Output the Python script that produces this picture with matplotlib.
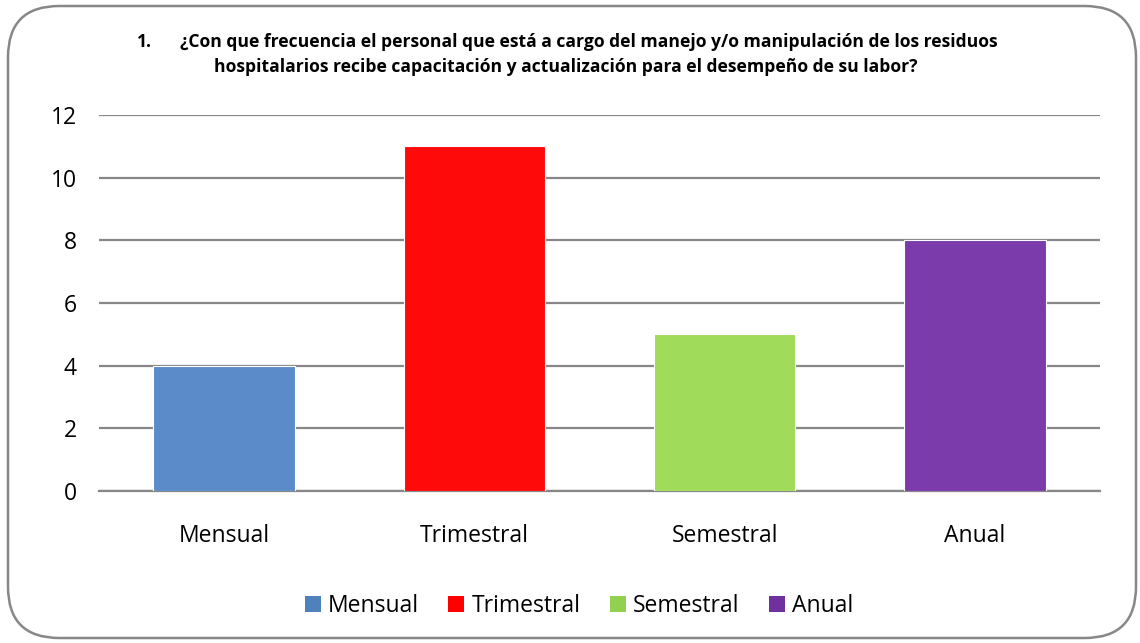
import matplotlib.pyplot as plt
from matplotlib.patches import FancyBboxPatch, Patch

categories = ["Mensual", "Trimestral", "Semestral", "Anual"]
values = [4, 11, 5, 8]
colors = ["#5B8BC9", "#FF0A0A", "#A0DC5A", "#7B3BAA"]
legend_colors = ["#4F81BD", "#FF0000", "#92D050", "#7030A0"]
yticks = [0, 2, 4, 6, 8, 10, 12]

title_num = "1."
title_l1 = "¿Con que frecuencia el personal que está a cargo del manejo y/o manipulación de los residuos"
title_l2 = "hospitalarios recibe capacitación y actualización para el desempeño de su labor?"

plt.rcParams['font.family'] = ['Open Sans', 'DejaVu Sans']

fig = plt.figure(figsize=(11.4, 6.43), dpi=100)
ax = fig.add_axes([0.0868, 0.2364, 0.8782, 0.5848])

x = range(len(categories))
ax.bar(x, values, width=0.565, color=colors, edgecolor="white", linewidth=0.8, zorder=3)
ax.set_xlim(-0.5, len(categories) - 0.5)
ax.set_ylim(0, 12)
ax.set_yticks(yticks)
ax.set_xticks(list(x))
ax.set_xticklabels(categories)
ax.tick_params(axis="both", length=0, labelsize=16.5, colors="black")
ax.tick_params(axis="x", pad=24)
ax.tick_params(axis="y", pad=16)
ax.yaxis.grid(True, color="#878787", linewidth=1.6, zorder=0)
for s in ["top", "right", "left"]:
    ax.spines[s].set_visible(False)
ax.spines["bottom"].set_color("#878787")
ax.spines["bottom"].set_linewidth(1.6)

tfont = dict(fontsize=12.6, fontweight="bold", family=["Open Sans", "DejaVu Sans"])
fig.text(137 / 1140, 1 - 42 / 643, title_num, ha="left", va="center", **tfont)
fig.text(180 / 1140, 1 - 42 / 643, title_l1, ha="left", va="center", **tfont)
fig.text(566 / 1140, 1 - 67 / 643, title_l2, ha="center", va="center", **tfont)

handles = [Patch(facecolor=c, edgecolor="none") for c in legend_colors]
fig.legend(handles, categories, loc="center", bbox_to_anchor=(579 / 1140, 1 - 606 / 643),
           ncol=4, frameon=False, fontsize=16.5, handlelength=0.7, handleheight=0.7,
           handletextpad=0.3, columnspacing=1.3)

border = FancyBboxPatch((8 / 1140, 5 / 643), 1128 / 1140, 632 / 643,
                        boxstyle="round,pad=0,rounding_size=0.045", transform=fig.transFigure,
                        facecolor="none", edgecolor="#878787", linewidth=1.8,
                        mutation_aspect=1140 / 643)
fig.patches.append(border)

fig.savefig("out.png", dpi=100)
